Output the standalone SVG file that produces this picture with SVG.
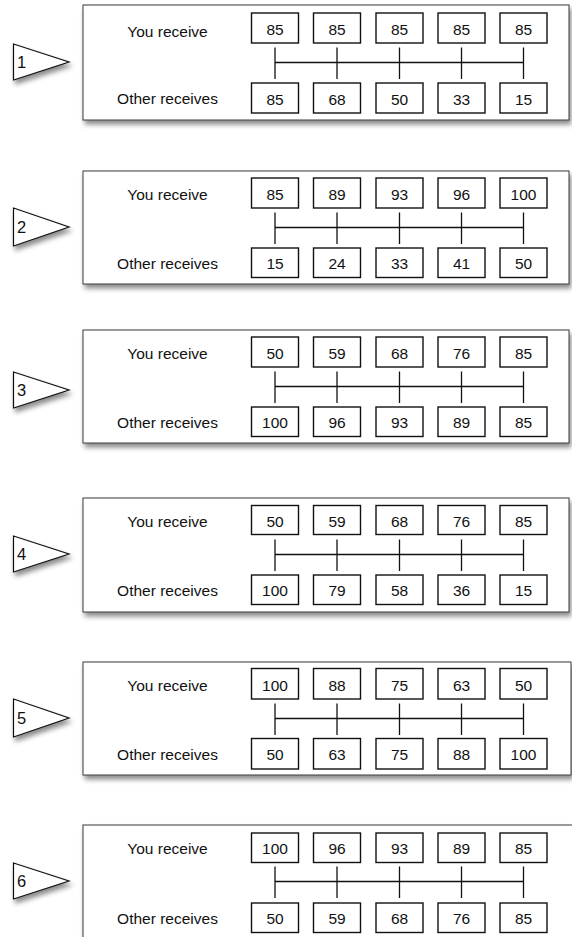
<svg xmlns="http://www.w3.org/2000/svg" width="572" height="937" viewBox="0 0 572 937">
<style>
.panel{fill:#fff;stroke:#3a3a3a;stroke-width:1;filter:url(#sh)}
.tri{fill:#fff;stroke:#111;stroke-width:1.2;stroke-linejoin:miter;filter:url(#sh)}
.box{fill:#fff;stroke:#111;stroke-width:1.4}
.lbl{font-family:"Liberation Sans",Arial,sans-serif;font-size:15.5px;fill:#111;text-anchor:middle}
.num{font-family:"Liberation Sans",Arial,sans-serif;font-size:15.5px;fill:#111;text-anchor:middle}
.tnum{font-family:"Liberation Sans",Arial,sans-serif;font-size:16.5px;fill:#111}
.con{stroke:#111;stroke-width:1.3;fill:none}
</style>
<defs>
<filter id="sh" x="-10%" y="-20%" width="130%" height="150%">
<feDropShadow dx="2" dy="4" stdDeviation="2.5" flood-color="#000" flood-opacity="0.45"/>
</filter>
<g id="row">
<line x1="275" y1="42.5" x2="275" y2="74"/>
<line x1="337" y1="42.5" x2="337" y2="74"/>
<line x1="399.5" y1="42.5" x2="399.5" y2="74"/>
<line x1="461.5" y1="42.5" x2="461.5" y2="74"/>
<line x1="523.5" y1="42.5" x2="523.5" y2="74"/>
<line x1="275" y1="57.5" x2="523.5" y2="57.5"/>
</g>
</defs>

<!-- Panel 1 -->
<g id="panel-1" transform="translate(0,5)">
<rect class="panel" x="83" y="0" width="486" height="115"/>
<text class="lbl" x="167.5" y="31.5">You receive</text>
<text class="lbl" x="167.5" y="98.5">Other receives</text>
<g id="p1-you">
<rect class="box" x="251.5" y="8" width="47" height="30"/><text class="num" x="275" y="29.5">85</text>
<rect class="box" x="313.5" y="8" width="47" height="30"/><text class="num" x="337" y="29.5">85</text>
<rect class="box" x="376" y="8" width="47" height="30"/><text class="num" x="399.5" y="29.5">85</text>
<rect class="box" x="438" y="8" width="47" height="30"/><text class="num" x="461.5" y="29.5">85</text>
<rect class="box" x="500" y="8" width="47" height="30"/><text class="num" x="523.5" y="29.5">85</text>
</g>
<g id="p1-other">
<rect class="box" x="251.5" y="78" width="47" height="30"/><text class="num" x="275" y="99.5">85</text>
<rect class="box" x="313.5" y="78" width="47" height="30"/><text class="num" x="337" y="99.5">68</text>
<rect class="box" x="376" y="78" width="47" height="30"/><text class="num" x="399.5" y="99.5">50</text>
<rect class="box" x="438" y="78" width="47" height="30"/><text class="num" x="461.5" y="99.5">33</text>
<rect class="box" x="500" y="78" width="47" height="30"/><text class="num" x="523.5" y="99.5">15</text>
</g>
</g>
<g id="marker-1">
<polygon class="tri" points="13.5,44 69,62 13.5,80"/>
<text class="tnum" x="17" y="68">1</text>
</g>

<!-- Panel 2 -->
<g id="panel-2" transform="translate(0,171)">
<rect class="panel" x="83" y="0" width="486" height="113"/>
<text class="lbl" x="167.5" y="28.5">You receive</text>
<text class="lbl" x="167.5" y="98">Other receives</text>
<g id="p2-you">
<rect class="box" x="251.5" y="7" width="47" height="30"/><text class="num" x="275" y="28.5">85</text>
<rect class="box" x="313.5" y="7" width="47" height="30"/><text class="num" x="337" y="28.5">89</text>
<rect class="box" x="376" y="7" width="47" height="30"/><text class="num" x="399.5" y="28.5">93</text>
<rect class="box" x="438" y="7" width="47" height="30"/><text class="num" x="461.5" y="28.5">96</text>
<rect class="box" x="500" y="7" width="47" height="30"/><text class="num" x="523.5" y="28.5">100</text>
</g>
<g id="p2-other">
<rect class="box" x="251.5" y="77" width="47" height="29.5"/><text class="num" x="275" y="98">15</text>
<rect class="box" x="313.5" y="77" width="47" height="29.5"/><text class="num" x="337" y="98">24</text>
<rect class="box" x="376" y="77" width="47" height="29.5"/><text class="num" x="399.5" y="98">33</text>
<rect class="box" x="438" y="77" width="47" height="29.5"/><text class="num" x="461.5" y="98">41</text>
<rect class="box" x="500" y="77" width="47" height="29.5"/><text class="num" x="523.5" y="98">50</text>
</g>
</g>
<g id="marker-2">
<polygon class="tri" points="13.5,208 69,227 13.5,246"/>
<text class="tnum" x="17" y="233">2</text>
</g>

<!-- Panel 3 -->
<g id="panel-3" transform="translate(0,330)">
<rect class="panel" x="83" y="0" width="486" height="113"/>
<text class="lbl" x="167.5" y="28.5">You receive</text>
<text class="lbl" x="167.5" y="98">Other receives</text>
<g id="p3-you">
<rect class="box" x="251.5" y="7" width="47" height="30"/><text class="num" x="275" y="28.5">50</text>
<rect class="box" x="313.5" y="7" width="47" height="30"/><text class="num" x="337" y="28.5">59</text>
<rect class="box" x="376" y="7" width="47" height="30"/><text class="num" x="399.5" y="28.5">68</text>
<rect class="box" x="438" y="7" width="47" height="30"/><text class="num" x="461.5" y="28.5">76</text>
<rect class="box" x="500" y="7" width="47" height="30"/><text class="num" x="523.5" y="28.5">85</text>
</g>
<g id="p3-other">
<rect class="box" x="251.5" y="77" width="47" height="29.5"/><text class="num" x="275" y="98">100</text>
<rect class="box" x="313.5" y="77" width="47" height="29.5"/><text class="num" x="337" y="98">96</text>
<rect class="box" x="376" y="77" width="47" height="29.5"/><text class="num" x="399.5" y="98">93</text>
<rect class="box" x="438" y="77" width="47" height="29.5"/><text class="num" x="461.5" y="98">89</text>
<rect class="box" x="500" y="77" width="47" height="29.5"/><text class="num" x="523.5" y="98">85</text>
</g>
</g>
<g id="marker-3">
<polygon class="tri" points="13.5,372 69,390 13.5,408"/>
<text class="tnum" x="17" y="396">3</text>
</g>

<!-- Panel 4 -->
<g id="panel-4" transform="translate(0,498)">
<rect class="panel" x="83" y="0" width="486" height="114"/>
<text class="lbl" x="167.5" y="28.5">You receive</text>
<text class="lbl" x="167.5" y="98">Other receives</text>
<g id="p4-you">
<rect class="box" x="251.5" y="7.5" width="47" height="29"/><text class="num" x="275" y="28.5">50</text>
<rect class="box" x="313.5" y="7.5" width="47" height="29"/><text class="num" x="337" y="28.5">59</text>
<rect class="box" x="376" y="7.5" width="47" height="29"/><text class="num" x="399.5" y="28.5">68</text>
<rect class="box" x="438" y="7.5" width="47" height="29"/><text class="num" x="461.5" y="28.5">76</text>
<rect class="box" x="500" y="7.5" width="47" height="29"/><text class="num" x="523.5" y="28.5">85</text>
</g>
<g id="p4-other">
<rect class="box" x="251.5" y="77" width="47" height="29.5"/><text class="num" x="275" y="98">100</text>
<rect class="box" x="313.5" y="77" width="47" height="29.5"/><text class="num" x="337" y="98">79</text>
<rect class="box" x="376" y="77" width="47" height="29.5"/><text class="num" x="399.5" y="98">58</text>
<rect class="box" x="438" y="77" width="47" height="29.5"/><text class="num" x="461.5" y="98">36</text>
<rect class="box" x="500" y="77" width="47" height="29.5"/><text class="num" x="523.5" y="98">15</text>
</g>
</g>
<g id="marker-4">
<polygon class="tri" points="13.5,536 69,554 13.5,572"/>
<text class="tnum" x="17" y="560">4</text>
</g>

<!-- Panel 5 -->
<g id="panel-5" transform="translate(0,662)">
<rect class="panel" x="83" y="0" width="488" height="113"/>
<text class="lbl" x="167.5" y="28.5">You receive</text>
<text class="lbl" x="167.5" y="98">Other receives</text>
<g id="p5-you">
<rect class="box" x="251.5" y="6.5" width="47" height="30.5"/><text class="num" x="275" y="28.5">100</text>
<rect class="box" x="313.5" y="6.5" width="47" height="30.5"/><text class="num" x="337" y="28.5">88</text>
<rect class="box" x="376" y="6.5" width="47" height="30.5"/><text class="num" x="399.5" y="28.5">75</text>
<rect class="box" x="438" y="6.5" width="47" height="30.5"/><text class="num" x="461.5" y="28.5">63</text>
<rect class="box" x="500" y="6.5" width="47" height="30.5"/><text class="num" x="523.5" y="28.5">50</text>
</g>
<g id="p5-other">
<rect class="box" x="251.5" y="76.5" width="47" height="30.5"/><text class="num" x="275" y="98">50</text>
<rect class="box" x="313.5" y="76.5" width="47" height="30.5"/><text class="num" x="337" y="98">63</text>
<rect class="box" x="376" y="76.5" width="47" height="30.5"/><text class="num" x="399.5" y="98">75</text>
<rect class="box" x="438" y="76.5" width="47" height="30.5"/><text class="num" x="461.5" y="98">88</text>
<rect class="box" x="500" y="76.5" width="47" height="30.5"/><text class="num" x="523.5" y="98">100</text>
</g>
</g>
<g id="marker-5">
<polygon class="tri" points="13.5,699 69,718 13.5,737"/>
<text class="tnum" x="17" y="724">5</text>
</g>

<!-- Panel 6 -->
<g id="panel-6" transform="translate(0,825)">
<rect class="panel" x="83" y="0" width="500" height="120"/>
<text class="lbl" x="167.5" y="29">You receive</text>
<text class="lbl" x="167.5" y="99">Other receives</text>
<g id="p6-you">
<rect class="box" x="251.5" y="8" width="47" height="29.5"/><text class="num" x="275" y="29">100</text>
<rect class="box" x="313.5" y="8" width="47" height="29.5"/><text class="num" x="337" y="29">96</text>
<rect class="box" x="376" y="8" width="47" height="29.5"/><text class="num" x="399.5" y="29">93</text>
<rect class="box" x="438" y="8" width="47" height="29.5"/><text class="num" x="461.5" y="29">89</text>
<rect class="box" x="500" y="8" width="47" height="29.5"/><text class="num" x="523.5" y="29">85</text>
</g>
<g id="p6-other">
<rect class="box" x="251.5" y="78" width="47" height="29.5"/><text class="num" x="275" y="99">50</text>
<rect class="box" x="313.5" y="78" width="47" height="29.5"/><text class="num" x="337" y="99">59</text>
<rect class="box" x="376" y="78" width="47" height="29.5"/><text class="num" x="399.5" y="99">68</text>
<rect class="box" x="438" y="78" width="47" height="29.5"/><text class="num" x="461.5" y="99">76</text>
<rect class="box" x="500" y="78" width="47" height="29.5"/><text class="num" x="523.5" y="99">85</text>
</g>
</g>
<g id="marker-6">
<polygon class="tri" points="13.5,863 69,881 13.5,899"/>
<text class="tnum" x="17" y="887">6</text>
</g>

<!-- Connectors -->
<g id="connectors" class="con">
<use href="#row" transform="translate(0,5)"/>
<use href="#row" transform="translate(0,170)"/>
<use href="#row" transform="translate(0,329)"/>
<use href="#row" transform="translate(0,497)"/>
<use href="#row" transform="translate(0,661)"/>
<use href="#row" transform="translate(0,824)"/>
</g>
</svg>
